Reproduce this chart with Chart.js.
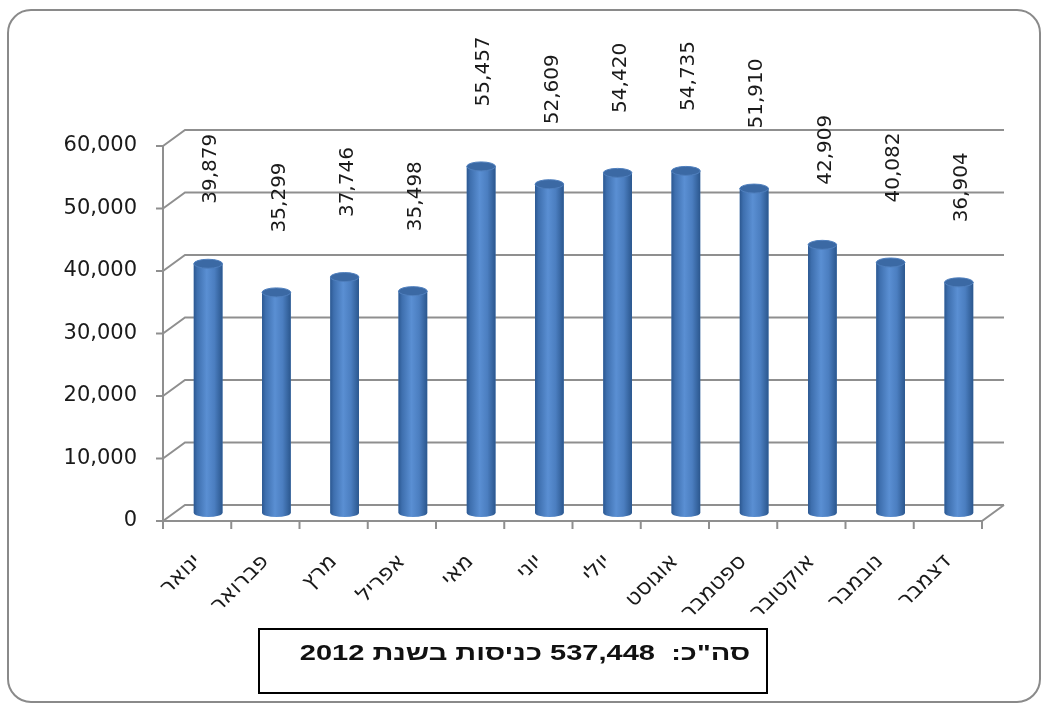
<!DOCTYPE html>
<html lang="he">
<head>
<meta charset="utf-8">
<script src="https://cdn.jsdelivr.net/npm/chart.js@4.4.1/dist/chart.umd.min.js"></script>
<style>
  body { margin: 0; background: #fff; }
  #wrap { position: relative; width: 1048px; height: 711px; }
  #frame {
    position: absolute; left: 7px; top: 9px; width: 1030px; height: 690px;
    border: 2px solid #8a8a8a; border-radius: 24px;
  }
  #total {
    position: absolute; left: 258px; top: 628px; width: 510px; height: 66px;
    border: 2px solid #000; box-sizing: border-box;
  }
  #total span {
    position: absolute; right: 16px; top: 12px;
    font: bold 22px "Liberation Sans", Arial, sans-serif; line-height: 22px; color: #111;
    white-space: nowrap; transform: scaleX(1.32); transform-origin: right center;
  }
  canvas { position: absolute; left: 0; top: 0; }
</style>
</head>
<body>
<div id="wrap">
  <div id="frame"></div>
  <canvas id="canvas" width="1048" height="711"></canvas>
  <div id="total" dir="rtl"><span id="total-text"></span></div>
</div>
<script>
// נתוני כניסות לפי חודש - 2012
const months = ['ינואר', 'פברואר', 'מרץ', 'אפריל', 'מאי', 'יוני', 'יולי', 'אוגוסט', 'ספטמבר', 'אוקטובר', 'נובמבר', 'דצמבר'];
const visits = [39879, 35299, 37746, 35498, 55457, 52609, 54420, 54735, 51910, 42909, 40082, 36904];
const yTicks = [0, 10000, 20000, 30000, 40000, 50000, 60000];
const year = 2012;

const fmt = (n) => n.toLocaleString('en-US');

// סכום שנתי לתיבת הסיכום
const total = visits.reduce((a, b) => a + b, 0);
document.getElementById('total-text').textContent = 'סה"כ:\u00a0\u00a0' + fmt(total) + ' כניסות בשנת ' + year;

// עומק התלת-ממד (קיר אחורי)
const depth = { x: 22, y: -16 };
const gridColor = '#8f8f8f';

const walls3d = {
  id: 'walls3d',
  beforeDatasetsDraw(chart) {
    const { ctx, chartArea: a, scales: { y } } = chart;
    ctx.save();
    ctx.strokeStyle = gridColor;
    ctx.lineWidth = 2;
    yTicks.forEach(v => {
      const py = y.getPixelForValue(v);
      ctx.beginPath();
      ctx.moveTo(a.left, py);
      ctx.lineTo(a.left + depth.x, py + depth.y);
      ctx.lineTo(a.right + depth.x, py + depth.y);
      ctx.stroke();
    });
    // רצפה
    const y0 = y.getPixelForValue(0);
    ctx.beginPath();
    ctx.moveTo(a.left, y0);
    ctx.lineTo(a.right, y0);
    ctx.lineTo(a.right + depth.x, y0 + depth.y);
    ctx.stroke();
    ctx.restore();
  },
  beforeDatasetDraw(chart) {
    chart.ctx.save();
    chart.ctx.translate(depth.x / 2, depth.y / 2);
  },
  afterDatasetDraw(chart, args) {
    const ctx = chart.ctx;
    args.meta.data.forEach(bar => {
      const { x, y, base, width } = bar.getProps(['x', 'y', 'base', 'width'], true);
      const r = width / 2;
      const g = ctx.createLinearGradient(x - r, 0, x + r, 0);
      g.addColorStop(0, '#2c5891');
      g.addColorStop(0.12, '#3e6fae');
      g.addColorStop(0.45, '#5a8fd3');
      g.addColorStop(0.72, '#4b7ec0');
      g.addColorStop(1, '#2b578e');
      ctx.fillStyle = g;
      ctx.fillRect(x - r, y, width, base - y);
      ctx.beginPath();
      ctx.ellipse(x, base, r, 4, 0, 0, Math.PI);
      ctx.fill();
      ctx.beginPath();
      ctx.ellipse(x, y, r, 4.5, 0, 0, Math.PI * 2);
      ctx.fillStyle = '#3b69a4';
      ctx.fill();
      ctx.strokeStyle = '#4f7fbd';
      ctx.lineWidth = 1;
      ctx.stroke();
    });
    ctx.restore();
  },
  afterDraw(chart) {
    const { ctx, chartArea: a, scales: { y } } = chart;
    ctx.save();
    ctx.strokeStyle = gridColor;
    ctx.lineWidth = 2;
    // ציר אנכי קדמי
    ctx.beginPath();
    ctx.moveTo(a.left, y.getPixelForValue(60000));
    ctx.lineTo(a.left, y.getPixelForValue(0));
    ctx.stroke();
    yTicks.forEach(v => {
      const py = y.getPixelForValue(v);
      ctx.beginPath();
      ctx.moveTo(a.left - 7, py);
      ctx.lineTo(a.left, py);
      ctx.stroke();
    });
    const step = (a.right - a.left) / months.length;
    for (let k = 0; k <= months.length; k++) {
      const px = a.left + k * step;
      ctx.beginPath();
      ctx.moveTo(px, a.bottom);
      ctx.lineTo(px, a.bottom + 8);
      ctx.stroke();
    }
    // תוויות ערכים
    ctx.fillStyle = '#1a1a1a';
    ctx.font = '20px "DejaVu Sans"';
    ctx.textAlign = 'left';
    ctx.textBaseline = 'middle';
    chart.getDatasetMeta(0).data.forEach((bar, i) => {
      ctx.save();
      ctx.translate(bar.x + depth.x / 2 + 3, bar.y + depth.y / 2 - 60);
      ctx.rotate(-Math.PI / 2);
      ctx.fillText(fmt(visits[i]), 0, 0);
      ctx.restore();
    });
    ctx.restore();
  }
};

new Chart(document.getElementById('canvas'), {
  type: 'bar',
  data: {
    labels: months,
    datasets: [{
      data: visits,
      backgroundColor: '#4f81bd',
      categoryPercentage: 1,
      barPercentage: 0.42,
      clip: false
    }]
  },
  options: {
    responsive: false,
    animation: false,
    layout: { padding: { left: 0, right: 66, top: 146, bottom: 0 } },
    plugins: { legend: { display: false }, tooltip: { enabled: false } },
    scales: {
      x: {
        grid: { display: false, drawTicks: false },
        border: { display: false },
        ticks: {
          minRotation: 45, maxRotation: 45, padding: 28,
          color: '#1a1a1a', font: { family: 'DejaVu Sans', size: 22 }
        },
        afterFit: (s) => { s.height = 190; }
      },
      y: {
        min: 0, max: 60000,
        grid: { display: false, drawTicks: false },
        border: { display: false },
        ticks: {
          stepSize: 10000, padding: 26,
          color: '#1a1a1a', font: { family: 'DejaVu Sans', size: 21 },
          callback: (v) => fmt(v)
        },
        afterFit: (s) => { s.width = 163; }
      }
    }
  },
  plugins: [walls3d]
});
</script>
</body>
</html>
